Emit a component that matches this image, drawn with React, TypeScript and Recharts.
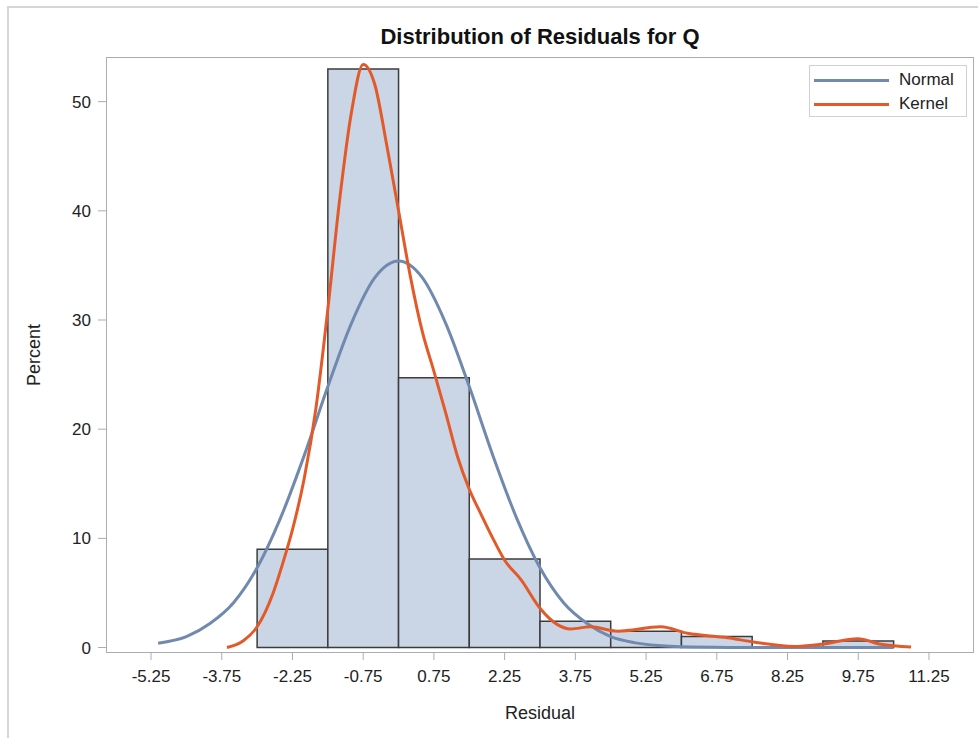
import { ComposedChart, Line, ReferenceArea, XAxis, YAxis } from "recharts";

// histogram bins (left edge, width 1.5) and percent heights
const binStarts = [-3, -1.5, 0, 1.5, 3, 4.5, 6, 7.5, 9];
const binWidth = 1.5;
const binPercents = [9.0, 53.0, 24.7, 8.1, 2.4, 1.5, 1.0, 0, 0.6];

// normal density curve
const normalX = [-5.1, -4.5, -4, -3.5, -3, -2.5, -2, -1.5, -1, -0.5, 0, 0.5, 1, 1.5, 2, 2.5, 3, 3.5, 4, 4.5, 5, 5.5, 6, 7, 8, 9, 10.5];
const normalY = [0.4, 1.0, 2.2, 4.1, 7.3, 11.9, 17.6, 23.9, 29.7, 33.9, 35.4, 33.9, 29.7, 23.9, 17.6, 11.9, 7.3, 4.1, 2.2, 1.0, 0.45, 0.18, 0.06, 0.01, 0, 0, 0];

// kernel density curve
const kernelX = [-3.64, -3.3, -3.0, -2.66, -2.45, -2.25, -2.0, -1.75, -1.5, -1.25, -1.0, -0.75, -0.5, -0.25, 0, 0.25, 0.5, 0.75, 1.0, 1.25, 1.5, 1.75, 2.0, 2.25, 2.6, 3.0, 3.37, 3.65, 4.07, 4.65, 5.56, 6.13, 6.98, 7.53, 8.38, 8.96, 9.74, 10.23, 10.87];
const kernelY = [0, 0.6, 1.9, 5.0, 7.8, 10.8, 15.5, 22, 31, 41, 49, 53.4, 51.5, 46, 40, 34, 29, 25.3, 21.5, 17.5, 14.5, 12.2, 10, 8, 6.2, 3.6, 2.1, 1.7, 1.9, 1.5, 1.9, 1.3, 0.9, 0.5, 0.1, 0.3, 0.8, 0.3, 0.05];

const xTicks = [-5.25, -3.75, -2.25, -0.75, 0.75, 2.25, 3.75, 5.25, 6.75, 8.25, 9.75, 11.25];
const yTicks = [0, 10, 20, 30, 40, 50];

const normalData = normalX.map((x, i) => ({ x, y: normalY[i] }));
const kernelData = kernelX.map((x, i) => ({ x, y: kernelY[i] }));

const FONT = '"Liberation Sans", Arial, sans-serif';
const FRAME = "#a9adb2";
const NORMAL = "#7089ae";
const KERNEL = "#e35a2a";

const LegendBox = () => (
  <div
    style={{
      position: "absolute",
      left: 809,
      top: 65,
      width: 156,
      height: 50,
      border: "1px solid #d0d0d0",
      background: "#fff",
      fontFamily: FONT,
      fontSize: 17,
      color: "#222",
    }}
  >
    {[
      { name: "Normal", color: NORMAL },
      { name: "Kernel", color: KERNEL },
    ].map((d, i) => (
      <div key={d.name} style={{ position: "absolute", left: 4, top: 4 + i * 24, height: 20, display: "flex", alignItems: "center" }}>
        <div style={{ width: 75, height: 3, background: d.color, marginRight: 10 }} />
        <span>{d.name}</span>
      </div>
    ))}
  </div>
);

const App = () => {
  return (
    <div style={{ position: "absolute", left: 0, top: 0, width: 978, height: 738, overflow: "hidden", background: "#fff" }}>
      <div style={{ position: "absolute", left: 7, top: 6, width: 1000, height: 1000, border: "2px solid #d6d6d6" }} />
      <div style={{ position: "absolute", left: 106, top: 57, width: 866, height: 594, border: `1.5px solid ${FRAME}` }} />
      <div
        style={{
          position: "absolute",
          left: 107,
          width: 866,
          top: 24,
          textAlign: "center",
          fontFamily: FONT,
          fontWeight: "bold",
          fontSize: 22,
          color: "#111",
        }}
      >
        Distribution of Residuals for Q
      </div>
      <ComposedChart width={978} height={738} margin={{ top: 58, right: 5, bottom: 0, left: 0 }} style={{ position: "absolute", left: 0, top: 0 }}>
        <XAxis
          dataKey="x"
          type="number"
          domain={[-6.184, 12.184]}
          allowDataOverflow
          ticks={xTicks}
          interval={0}
          height={86}
          stroke={FRAME}
          axisLine={false}
          tickSize={8}
          tickMargin={10}
          tick={{ fill: "#222", fontSize: 17, fontFamily: FONT }}
          label={{ value: "Residual", position: "insideBottom", offset: 19, style: { fill: "#222", fontSize: 18, fontFamily: FONT } }}
        />
        <YAxis
          type="number"
          domain={[-0.41, 54.0]}
          allowDataOverflow
          ticks={yTicks}
          interval={0}
          width={107}
          stroke={FRAME}
          axisLine={false}
          tickSize={9}
          tickMargin={7}
          tick={{ fill: "#222", fontSize: 17, fontFamily: FONT }}
          label={{ value: "Percent", angle: -90, position: "insideLeft", offset: 34, style: { fill: "#222", fontSize: 18, fontFamily: FONT, textAnchor: "middle" } }}
        />
        {binStarts.map((start, i) =>
          binPercents[i] > 0 ? (
            <ReferenceArea
              key={start}
              x1={start}
              x2={start + binWidth}
              y1={0}
              y2={binPercents[i]}
              fill="#cad5e5"
              fillOpacity={1}
              stroke="#3c3c3c"
              strokeWidth={1.5}
            />
          ) : null
        )}
        <Line
          data={normalData}
          dataKey="y"
          name="Normal"
          type="monotone"
          stroke={NORMAL}
          strokeWidth={3}
          dot={false}
          isAnimationActive={false}
        />
        <Line
          data={kernelData}
          dataKey="y"
          name="Kernel"
          type="monotone"
          stroke={KERNEL}
          strokeWidth={3}
          dot={false}
          isAnimationActive={false}
        />
      </ComposedChart>
      <LegendBox />
    </div>
  );
};

export default App;
